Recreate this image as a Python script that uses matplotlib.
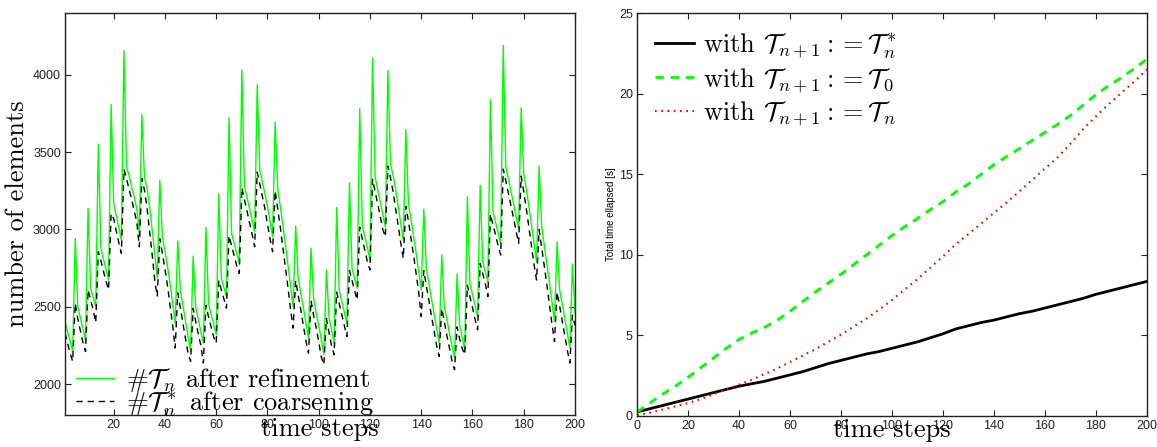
import matplotlib
matplotlib.use("Agg")
import matplotlib.pyplot as plt
import numpy as np

# ---------------- data: left panel ----------------
steps = list(range(1, 201))
refined = [
    2405, 2340, 2275, 2211, 2942, 2500, 2430, 2360, 2287, 3136,
    2620, 2560, 2500, 3551, 2878, 2810, 2740, 2673, 3807, 3168,
    3090, 3010, 2931, 4157, 3404, 3350, 3275, 3211, 3136, 2974,
    3742, 3340, 3270, 3150, 3000, 2850, 2684, 3318, 2953, 2860,
    2760, 2650, 2520, 2394, 2927, 2609, 2510, 2410, 2310, 2211,
    2828, 2500, 2420, 2340, 2265, 3013, 2523, 2450, 2385, 2319,
    3232, 2684, 2625, 2566, 3723, 2974, 2910, 2845, 2781, 4032,
    3286, 3210, 3135, 3060, 2985, 3935, 3383, 3310, 3230, 3150,
    3050, 2953, 3695, 3265, 3150, 3030, 2900, 2770, 2640, 2501,
    3022, 2684, 2590, 2495, 2395, 2297, 2878, 2555, 2460, 2380,
    2290, 2190, 2738, 2437, 2350, 2265, 3142, 2609, 2535, 2465,
    2394, 3301, 2749, 2685, 2620, 3781, 3028, 2955, 2880, 2802,
    4110, 3340, 3260, 3180, 3100, 3017, 4028, 3426, 3350, 3260,
    3150, 3040, 2931, 3645, 3168, 3070, 2960, 2850, 2730, 2609,
    3131, 2749, 2650, 2555, 2455, 2360, 2265, 2835, 2501, 2420,
    2330, 2250, 2168, 2712, 2383, 2300, 2222, 3211, 2652, 2580,
    2510, 2437, 3286, 2792, 2728, 2663, 3839, 3114, 3045, 2978,
    2910, 4190, 3404, 3330, 3250, 3170, 3090, 3007, 3787, 3361,
    3260, 3150, 3030, 2910, 2792, 3411, 3017, 2900, 2780, 2660,
    2530, 2405, 2921, 2609, 2520, 2425, 2330, 2233, 2777, 2458,
]
coarsened = [
    2330, 2265, 2200, 2147, 2523, 2420, 2345, 2270, 2211, 2609,
    2545, 2480, 2398, 2856, 2800, 2730, 2665, 2610, 3103, 3070,
    2990, 2915, 2845, 3390, 3330, 3260, 3195, 3120, 3050, 2888,
    3330, 3255, 3140, 2990, 2840, 2675, 2566, 2940, 2845, 2745,
    2635, 2505, 2380, 2233, 2590, 2495, 2395, 2295, 2200, 2147,
    2490, 2405, 2325, 2250, 2136, 2510, 2435, 2370, 2305, 2265,
    2670, 2610, 2550, 2491, 2960, 2895, 2830, 2765, 2716, 3270,
    3195, 3120, 3045, 2970, 2888, 3370, 3295, 3215, 3135, 3035,
    2940, 2856, 3250, 3135, 3015, 2885, 2755, 2625, 2485, 2362,
    2670, 2575, 2480, 2380, 2280, 2200, 2540, 2445, 2365, 2275,
    2175, 2125, 2425, 2335, 2250, 2190, 2595, 2520, 2450, 2380,
    2308, 2735, 2670, 2605, 2544, 3015, 2940, 2865, 2790, 2738,
    3325, 3245, 3165, 3085, 3000, 2953, 3410, 3335, 3245, 3135,
    3025, 2915, 2813, 3150, 3055, 2945, 2835, 2715, 2595, 2437,
    2735, 2635, 2540, 2440, 2345, 2250, 2179, 2490, 2405, 2315,
    2235, 2150, 2093, 2370, 2290, 2230, 2190, 2640, 2565, 2495,
    2420, 2351, 2780, 2715, 2650, 2566, 3100, 3030, 2965, 2895,
    2835, 3390, 3315, 3235, 3155, 3075, 2990, 2910, 3345, 3245,
    3135, 3015, 2895, 2775, 2673, 3000, 2885, 2765, 2645, 2515,
    2390, 2276, 2595, 2505, 2410, 2315, 2220, 2136, 2445, 2380,
]

# ---------------- data: right panel ----------------
t_time = list(range(0, 201, 5))
time_star = [0.25, 0.45, 0.65, 0.85, 1.05, 1.25, 1.45, 1.65, 1.85, 2.0,
             2.15, 2.35, 2.55, 2.75, 3.0, 3.25, 3.45, 3.65, 3.85, 4.0,
             4.2, 4.4, 4.6, 4.85, 5.1, 5.4, 5.6, 5.8, 5.95, 6.15,
             6.35, 6.5, 6.7, 6.9, 7.1, 7.3, 7.55, 7.75, 7.95, 8.15, 8.35]
time_t0 = [0.25, 0.8, 1.35, 1.85, 2.4, 3.0, 3.6, 4.2, 4.75, 5.15,
           5.5, 5.95, 6.5, 7.1, 7.7, 8.25, 8.8, 9.4, 10.0, 10.6,
           11.2, 11.75, 12.25, 12.8, 13.3, 13.9, 14.4, 15.0, 15.6, 16.1,
           16.6, 17.1, 17.6, 18.1, 18.65, 19.3, 19.95, 20.5, 21.0, 21.55, 22.15]
time_tn = [0.05, 0.2, 0.4, 0.6, 0.8, 1.05, 1.35, 1.65, 1.95, 2.25,
           2.6, 2.95, 3.35, 3.75, 4.15, 4.6, 5.05, 5.55, 6.05, 6.6,
           7.2, 7.85, 8.5, 9.2, 9.9, 10.65, 11.3, 11.95, 12.6, 13.25,
           13.95, 14.65, 15.35, 16.05, 16.9, 17.8, 18.6, 19.35, 20.05, 20.75, 21.5]

left_yticks = [2000, 2500, 3000, 3500, 4000]
left_xticks = list(range(20, 201, 20))
right_xticks = list(range(0, 201, 20))
right_yticks = [0, 5, 10, 15, 20, 25]

plt.rcParams['mathtext.fontset'] = 'cm'
plt.rcParams['axes.unicode_minus'] = False
serif = 'cmr10'
tick_font = 'Liberation Sans'
big = 19

W, H = 1157, 447
fig = plt.figure(figsize=(W / 100, H / 100), dpi=100)
axL = fig.add_axes([65 / W, 1 - 415 / H, 510 / W, 402 / H])
axR = fig.add_axes([637 / W, 1 - 416 / H, 510 / W, 403 / H])

for ax in (axL, axR):
    ax.tick_params(direction='in', length=4, width=0.8, top=True, right=True,
                   labelsize=9, colors='#222222', pad=3)
    for s in ax.spines.values():
        s.set_linewidth(1.0)
        s.set_color('#222222')

# Left panel
axL.plot(steps, refined, color='#00ff00', lw=1.0,
         label=r'$\#\mathcal{T}_n$ after refinement')
axL.plot(steps, coarsened, color='black', lw=1.0, ls=(0, (4.5, 3.5)),
         label=r'$\#\mathcal{T}_n^*$ after coarsening')
axL.set_xlim(1, 200)
axL.set_ylim(1800, 4400)
axL.set_xticks(left_xticks)
axL.set_yticks(left_yticks)
axL.set_xlabel('time steps', family=serif, fontsize=big, labelpad=-10)
axL.set_ylabel('number of elements', family=serif, fontsize=big, labelpad=3)
axL.legend(loc='lower left', frameon=False, prop={'family': serif, 'size': big},
           handlelength=1.45, handletextpad=0.45, labelspacing=-0.2,
           borderaxespad=0.0, bbox_to_anchor=(0.0, -0.035))

# Right panel
axR.plot(t_time, time_star, color='black', lw=2.0,
         label=r'with $\mathcal{T}_{n+1} := \mathcal{T}_n^*$')
axR.plot(t_time, time_t0, color='#00ff00', lw=2.0, ls=(0, (3, 2.5)),
         label=r'with $\mathcal{T}_{n+1} := \mathcal{T}_0$')
axR.plot(t_time, time_tn, color='red', lw=1.5, ls=(0, (0.8, 2.2)),
         label=r'with $\mathcal{T}_{n+1} := \mathcal{T}_n$')
axR.set_xlim(0, 200)
axR.set_ylim(0, 25)
axR.set_xticks(right_xticks)
axR.set_yticks(right_yticks)
axR.set_xlabel('time steps', family=serif, fontsize=big, labelpad=-10)
axR.set_ylabel('Total time ellapsed [s]', family=tick_font, fontsize=7, labelpad=2)
axR.legend(loc='upper left', frameon=False, prop={'family': serif, 'size': big},
           handlelength=1.45, handletextpad=0.35, labelspacing=0.2,
           borderaxespad=0.3)

for ax in (axL, axR):
    for lab in ax.get_xticklabels() + ax.get_yticklabels():
        lab.set_family(tick_font)

fig.savefig('out.png', dpi=100)
